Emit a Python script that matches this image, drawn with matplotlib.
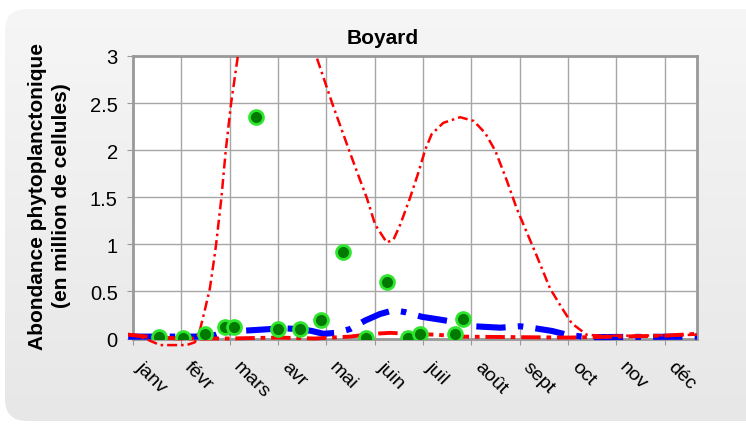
import numpy as np
import matplotlib
matplotlib.use('Agg')
import matplotlib.pyplot as plt
import matplotlib.transforms as mtransforms
from matplotlib.patches import FancyBboxPatch, Rectangle

plt.rcParams['font.family'] = ['Liberation Sans', 'DejaVu Sans']

# month axis labels (x in months, 0 = janv)
months = ['janv', 'févr', 'mars', 'avr', 'mai', 'juin', 'juil', 'août', 'sept', 'oct', 'nov', 'déc']

# big red dash-dot curve (values > 3 are off-chart)
red_big_x = [-0.1, 0.2, 0.56, 1.11, 1.28, 1.39, 1.49, 1.59, 1.68, 1.72, 1.83, 1.92, 2.03, 2.17,
             2.5, 3.0, 3.5, 3.79, 4.12, 4.47, 4.70, 4.84, 5.01, 5.25, 5.39, 5.53, 5.73, 5.91,
             6.05, 6.18, 6.42, 6.77, 7.05, 7.29, 7.50, 7.74, 7.94, 8.36, 8.63, 8.88, 9.08,
             9.39, 9.67, 10.5, 11.67]
red_big_y = [0.05, 0.01, -0.07, -0.07, -0.04, 0.10, 0.31, 0.53, 0.85, 1.0, 1.5, 2.0, 2.5, 3.0,
             4.0, 4.4, 3.6, 3.0, 2.5, 2.0, 1.68, 1.49, 1.21, 1.02, 1.05, 1.21, 1.49, 1.77,
             2.01, 2.17, 2.29, 2.35, 2.31, 2.18, 1.99, 1.67, 1.38, 0.87, 0.53, 0.32, 0.16,
             0.04, 0.03, 0.03, 0.04]

# small red thick dash-dot curve
red_small_x = [-0.1, 0.5, 1.0, 2.0, 3.0, 3.77, 4.49, 4.98, 5.32, 5.73, 6.29, 6.77, 7.8, 9.0, 10.0, 11.0, 11.67]
red_small_y = [0.04, 0.01, 0.0, 0.0, 0.01, 0.0, 0.02, 0.05, 0.06, 0.05, 0.04, 0.02, 0.015, 0.01, 0.02, 0.03, 0.05]

# blue thick dashed curve
blue_x = [-0.1, 1.28, 1.66, 1.76, 2.21, 2.84, 3.0, 3.46, 3.7, 3.94, 4.2, 4.49, 4.8, 5.11, 5.39,
          5.63, 5.98, 6.36, 6.7, 7.05, 7.6, 8.01, 8.3, 8.67, 8.98, 9.3, 9.59, 11.67]
blue_y = [0.02, 0.02, 0.03, 0.05, 0.08, 0.10, 0.11, 0.10, 0.08, 0.05, 0.06, 0.10, 0.19, 0.26, 0.30,
          0.28, 0.23, 0.20, 0.17, 0.13, 0.115, 0.13, 0.11, 0.08, 0.04, 0.02, 0.015, 0.02]

# observed counts (green dots)
obs_x = [0.54, 1.03, 1.48, 1.91, 2.10, 2.54, 3.01, 3.46, 3.90, 4.34, 4.83, 5.25, 5.70, 5.93, 6.67, 6.83]
obs_y = [0.02, 0.01, 0.05, 0.12, 0.12, 2.35, 0.10, 0.10, 0.20, 0.92, 0.01, 0.60, 0.01, 0.05, 0.05, 0.21]

fig = plt.figure(figsize=(7.46, 4.27), dpi=100)

# rounded grey background with a soft vertical gradient
bg = fig.add_axes([0, 0, 1, 1], zorder=-10)
bg.set_axis_off()
grad = np.linspace(0, 1, 256).reshape(-1, 1)
img = bg.imshow(grad, cmap=matplotlib.colors.LinearSegmentedColormap.from_list('g', ['#e7e7e7', '#f6f6f6']),
                extent=[0, 746, 0, 427], aspect='auto', origin='upper')
bg.set_xlim(0, 746)
bg.set_ylim(427, 0)
box = FancyBboxPatch((5, 10), 780, 412, boxstyle='round,pad=0,rounding_size=22',
                     transform=bg.transData, fc='none', ec='none')
bg.add_patch(box)
img.set_clip_path(box)

ax = fig.add_axes([133 / 746, 87.5 / 427, 564 / 746, 282.5 / 427])
ax.set_facecolor('white')

clip = Rectangle((-0.02, -0.06), 1.04, 1.06, transform=ax.transAxes, fc='none', ec='none')

l1, = ax.plot(blue_x, blue_y, color='#0000ff', lw=4.4, dash_capstyle='butt',
              linestyle=(0, (4.8, 2.0, 0.9, 2.0)), zorder=3)
l2, = ax.plot(red_small_x, red_small_y, color='#ff0000', lw=2.8,
              linestyle=(0, (5, 1.5, 1.2, 1.5)), zorder=4)
l3, = ax.plot(red_big_x, red_big_y, color='#ff0000', lw=1.8,
              linestyle=(0, (4, 1.6, 1.0, 1.6)), zorder=5)
for ln in (l1, l2, l3):
    ln.set_clip_path(clip)
ax.plot(obs_x, obs_y, 'o', ms=10, mfc='#007a00', mec='#2ee62e', mew=2, ls='none', zorder=6)

ax.set_xlim(0, 11.67)
ax.set_ylim(0, 3)
ax.set_yticks([0, 0.5, 1, 1.5, 2, 2.5, 3])
ax.set_yticklabels(['0', '0.5', '1', '1.5', '2', '2.5', '3'], fontsize=14.5)
ax.set_xticks(range(12))
ax.set_xticklabels(months, rotation=-45, ha='left', va='top', rotation_mode='anchor', fontsize=14)
ax.tick_params(axis='x', length=4, pad=10, color='#999999')
ax.tick_params(axis='y', length=4, pad=7, color='#999999')
shift = mtransforms.ScaledTranslation(12 / 100, 0, fig.dpi_scale_trans)
for lab in ax.get_xticklabels():
    lab.set_transform(lab.get_transform() + shift)
ax.grid(True, color='#a6a6a6', lw=1.0)
ax.set_axisbelow(True)
for sp in ax.spines.values():
    sp.set_color('#999999')
    sp.set_linewidth(2)

fig.text(383 / 746, 1 - 39 / 427, 'Boyard', ha='center', va='center', fontsize=15, fontweight='bold')
fig.text(49.5 / 746, 1 - 196 / 427, 'Abondance phytoplanctonique\n(en million de cellules)',
         rotation=90, ha='center', va='center', multialignment='center', fontsize=15,
         fontweight='bold', linespacing=1.3)

fig.savefig('out.png', dpi=100)
